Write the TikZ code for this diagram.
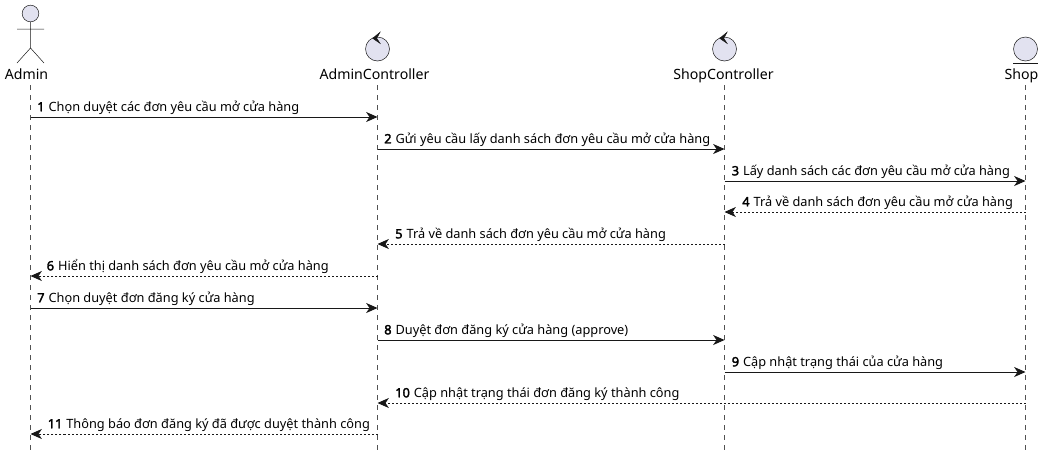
\documentclass[tikz,border=0pt]{standalone}
\usepackage{fontspec}
\setmainfont{Noto Sans}
\newfontfamily\numfont{Noto Sans}[FakeBold=2.5]
\usetikzlibrary{arrows.meta,positioning,calc}
\definecolor{lineDark}{HTML}{181818}
\definecolor{headFill}{HTML}{E2E2F0}

\begin{document}
\begin{tikzpicture}[
    x=0.75pt, y=-0.75pt,
    head/.style={draw=lineDark, line width=0.375pt, fill=headFill, circle, inner sep=0pt, minimum size=18pt},
    partname/.style={font=\fontsize{10.6pt}{12pt}\selectfont, text=black, inner sep=0pt, anchor=base},
    life/.style={draw=lineDark!75, line width=0.375pt, dash pattern=on 3.75pt off 3.75pt},
    msg/.style={draw=lineDark, line width=0.75pt, -{Stealth[length=8.5pt, width=7.5pt, inset=2.5pt]}},
    ret/.style={msg, dash pattern=on 1.5pt off 1.5pt},
    lbl/.style={font=\fontsize{9.58pt}{11pt}\selectfont, text=black, inner sep=0pt, anchor=base west}
]
\useasboundingbox (0,0) rectangle (1045,458);

% participants
\node[head, minimum size=12.5pt] (adminHead) at (30.5,13.5) {};
\coordinate (adminHip) at (30.5,48);
\coordinate (armL) at (17,29);
\coordinate (armR) at (44,29);
\coordinate (legL) at (17,63);
\coordinate (legR) at (44,63);
\draw[draw=lineDark, line width=0.375pt] (adminHead) -- (adminHip) (armL) -- (armR) (legL) -- (adminHip) -- (legR);
\node[head] (adminCtrlHead) at (377.5,49) {};
\node[head] (shopCtrlHead) at (724.5,49) {};
\node[head] (shopHead) at (1025.5,49) {};
\draw[draw=lineDark, line width=0.375pt] (shopHead.west |- 0,63) -- (shopHead.east |- 0,63);
\foreach \h in {adminCtrlHead,shopCtrlHead}
    \filldraw[lineDark, line width=0.375pt] ($(\h)+(2.5,-16.7)$) -- ($(\h)+(-4.8,-10.7)$) -- ($(\h)+(2.5,-5.7)$) -- ($(\h)+(-0.8,-10.7)$) -- cycle;

\node[partname] (admin) at (26.5,79.5) {Admin};
\node[partname] (adminCtrl) at (374.5,79.5) {AdminController};
\node[partname] (shopCtrl) at (723.5,79.5) {ShopController};
\node[partname] (shop) at (1021.5,79.5) {Shop};

% lifelines
\coordinate (adminEnd) at (30.5,450);
\coordinate (adminCtrlEnd) at (377.5,450);
\coordinate (shopCtrlEnd) at (724.5,450);
\coordinate (shopEnd) at (1025.5,450);
\coordinate (adminTop) at (30.5,85);
\coordinate (adminCtrlTop) at (377.5,85);
\coordinate (shopCtrlTop) at (724.5,85);
\coordinate (shopTop) at (1025.5,85);
\foreach \p in {admin,adminCtrl,shopCtrl,shop}
    \draw[life] (\p Top) -- (\p End);

% messages
\foreach \n/\yy/\src/\dst/\sty/\xx/\txt in {
    1/117/admin/adminCtrl/msg/37/{Chọn duyệt các đơn yêu cầu mở cửa hàng},
    2/149/adminCtrl/shopCtrl/msg/384/{Gửi yêu cầu lấy danh sách đơn yêu cầu mở cửa hàng},
    3/181/shopCtrl/shop/msg/731.5/{Lấy danh sách các đơn yêu cầu mở cửa hàng},
    4/212/shop/shopCtrl/ret/742/{Trả về danh sách đơn yêu cầu mở cửa hàng},
    5/244/shopCtrl/adminCtrl/ret/395/{Trả về danh sách đơn yêu cầu mở cửa hàng},
    6/276/adminCtrl/admin/ret/46.5/{Hiển thị danh sách đơn yêu cầu mở cửa hàng},
    7/308/admin/adminCtrl/msg/37/{Chọn duyệt đơn đăng ký cửa hàng},
    8/340/adminCtrl/shopCtrl/msg/384/{Duyệt đơn đăng ký cửa hàng (approve)},
    9/372/shopCtrl/shop/msg/731.5/{Cập nhật trạng thái của cửa hàng},
    10/403/shop/adminCtrl/ret/395/{Cập nhật trạng thái đơn đăng ký thành công},
    11/434/adminCtrl/admin/ret/47.5/{Thông báo đơn đăng ký đã được duyệt thành công}
}{
    \coordinate (m\n a) at (\src Top |- 0,\yy);
    \coordinate (m\n b) at (\dst Top |- 0,\yy);
    \draw[\sty] (m\n a) -- (m\n b);
    \node[lbl] (m\n t) at (\xx,\yy-5.7) {{\numfont\n}\hspace{3pt}\txt};
}
\end{tikzpicture}
\end{document}
